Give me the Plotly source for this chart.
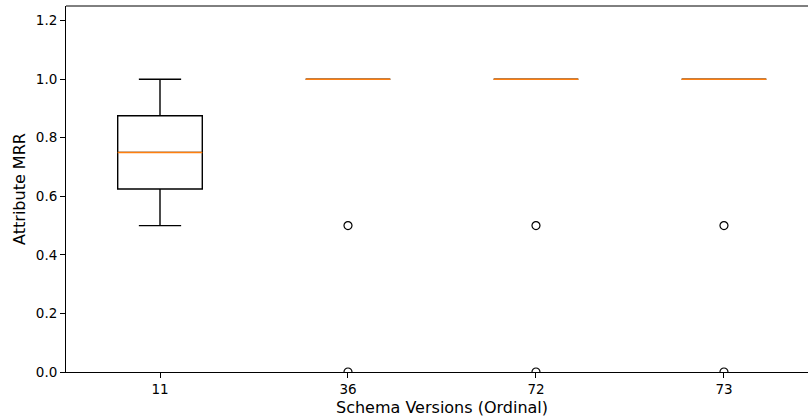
import plotly.graph_objects as go

# Data
categories = ["11", "36", "72", "73"]
positions = [1, 2, 3, 4]
q1 = [0.625, 1.0, 1.0, 1.0]
median = [0.75, 1.0, 1.0, 1.0]
q3 = [0.875, 1.0, 1.0, 1.0]
lower_whisker = [0.5, 1.0, 1.0, 1.0]
upper_whisker = [1.0, 1.0, 1.0, 1.0]
outlier_pos = [2, 2, 3, 3, 4, 4]
outlier_vals = [0.5, 0.0, 0.5, 0.0, 0.5, 0.0]

BOX_W = 0.45
FONT = "DejaVu Sans"

fig = go.Figure()

fig.add_trace(go.Box(
    x=positions, q1=q1, median=median, q3=q3,
    lowerfence=lower_whisker, upperfence=upper_whisker,
    width=BOX_W, whiskerwidth=0.5, boxpoints=False,
    line=dict(color="black", width=1.4), fillcolor="rgba(255,255,255,0)",
    showlegend=False, hoverinfo="skip",
))

# orange median lines
mx, my = [], []
for p, m in zip(positions, median):
    mx += [p - BOX_W / 2, p + BOX_W / 2, None]
    my += [m, m, None]
fig.add_trace(go.Scatter(
    x=mx, y=my, mode="lines",
    line=dict(color="#ff7f0e", width=1.5),
    showlegend=False, hoverinfo="skip",
))

# outliers
fig.add_trace(go.Scatter(
    x=outlier_pos, y=outlier_vals, mode="markers",
    marker=dict(symbol="circle-open", size=8, color="black", line=dict(width=1.2)),
    showlegend=False, hoverinfo="skip",
))

fig.update_layout(
    width=808, height=419,
    margin=dict(l=66, r=0, t=6, b=47, autoexpand=False),
    paper_bgcolor="white", plot_bgcolor="white",
    font=dict(family=FONT, size=13, color="black"),
    xaxis=dict(
        automargin=False,
        range=[0.5, 4.447],
        tickmode="array", tickvals=positions, ticktext=categories,
        showgrid=False, zeroline=False,
        showline=True, linecolor="black", linewidth=1,
        ticks="outside", ticklen=5, tickcolor="black", tickwidth=1,
        tickfont=dict(size=13.5),
    ),
    yaxis=dict(
        automargin=False,
        range=[0, 1.25],
        tickmode="array", tickvals=[0, 0.2, 0.4, 0.6, 0.8, 1.0, 1.2],
        ticktext=["0.0", "0.2", "0.4", "0.6", "0.8", "1.0", "1.2"],
        showgrid=False, zeroline=False,
        showline=True, linecolor="black", linewidth=1,
        ticks="outside", ticklen=5, tickcolor="black", tickwidth=1,
        tickfont=dict(size=13.5),
        title=dict(text="Attribute MRR", font=dict(size=16), standoff=6),
    ),
    annotations=[dict(
        text="Schema Versions (Ordinal)", xref="x", yref="paper",
        x=2.5, y=-0.096, yanchor="middle", xanchor="center", showarrow=False,
        font=dict(size=16, family=FONT, color="black"),
    )],
    shapes=[dict(type="line", xref="paper", yref="paper", x0=0, x1=1, y0=1, y1=1,
                 line=dict(color="black", width=1))],
)

fig.write_html("out.html", config={"displayModeBar": False},
               post_script="document.body.style.margin='0';")
